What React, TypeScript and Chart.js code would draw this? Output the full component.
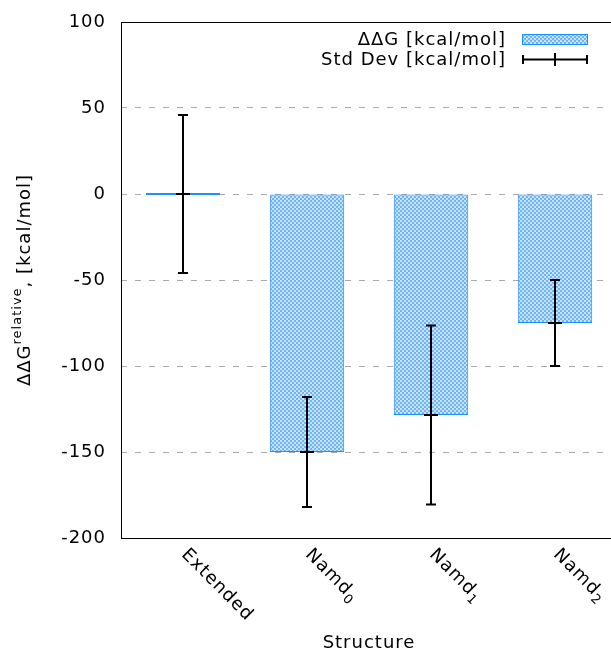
import React, { useEffect, useRef } from "react";
import { Chart, registerables } from "chart.js";

Chart.register(...registerables);

// ---- data ----
const categories = ["Extended", "Namd", "Namd", "Namd"];
const subscripts = ["", "0", "1", "2"];
const ddG = [0, -150, -128.5, -75];
const stdDev = [46, 32, 52, 25];
const yMin = -200;
const yMax = 100;
const yStep = 50;
const gridValues = [50, 0, -50, -100, -150];
const legendLabels = ["ΔΔG [kcal/mol]", "Std Dev [kcal/mol]"];
const xTitle = "Structure";
const yTitleParts = ["ΔΔG", "relative", ", [kcal/mol]"];

const FAMILY = "'DejaVu Sans', sans-serif";
const BLUE = "#1e8fff";

function makePattern(ctx: CanvasRenderingContext2D): CanvasPattern | string {
  const p = document.createElement("canvas");
  p.width = 4;
  p.height = 4;
  const pc = p.getContext("2d");
  if (!pc) return "#9ccbf8";
  pc.fillStyle = "#70b4f8";
  pc.fillRect(0, 0, 4, 4);
  pc.fillStyle = "#c8e3fe";
  pc.fillRect(0, 0, 2, 2);
  pc.fillRect(2, 2, 2, 2);
  return ctx.createPattern(p, "repeat") || "#9ccbf8";
}

export default function App() {
  const ref = useRef<HTMLCanvasElement | null>(null);

  useEffect(() => {
    const canvas = ref.current;
    if (!canvas) return;
    const ctx0 = canvas.getContext("2d");
    if (!ctx0) return;
    const pattern = makePattern(ctx0);

    const custom = {
      id: "custom",
      beforeDraw(chart: any) {
        (chart.ctx as any).letterSpacing = "1px";
      },
      afterDraw(chart: any) {
        const c: CanvasRenderingContext2D = chart.ctx;
        const ca = chart.chartArea;
        const xs = chart.scales.x;
        const ys = chart.scales.y;
        c.save();
        (c as any).letterSpacing = "1px";

        // frame
        c.strokeStyle = "#000";
        c.lineWidth = 1;
        c.setLineDash([]);
        c.strokeRect(ca.left + 0.5, ca.top + 0.5, ca.right - ca.left, ca.bottom - ca.top);

        // error bars
        const meta = chart.getDatasetMeta(0);
        c.lineWidth = 2;
        c.strokeStyle = "#000";
        meta.data.forEach((bar: any, i: number) => {
          const x = Math.round(bar.x);
          const yt = ys.getPixelForValue(ddG[i] + stdDev[i]);
          const yb = ys.getPixelForValue(ddG[i] - stdDev[i]);
          const ym = ys.getPixelForValue(ddG[i]);
          c.beginPath();
          c.moveTo(x, yt);
          c.lineTo(x, yb);
          c.moveTo(x - 5, yt);
          c.lineTo(x + 5, yt);
          c.moveTo(x - 5, yb);
          c.lineTo(x + 5, yb);
          c.moveTo(x - 7, ym);
          c.lineTo(x + 7, ym);
          c.stroke();
        });

        // x tick labels (rotated, with subscripts)
        c.fillStyle = "#000";
        categories.forEach((label, i) => {
          const x = xs.getPixelForValue(i);
          c.save();
          c.translate(x + 1, 552);
          c.rotate(Math.PI / 4);
          c.font = `18px ${FAMILY}`;
          c.textAlign = "left";
          c.textBaseline = "middle";
          c.fillText(label, 0, 0);
          const w = c.measureText(label).width;
          if (subscripts[i]) {
            c.font = `13px ${FAMILY}`;
            c.fillText(subscripts[i], w, 6);
          }
          c.restore();
        });

        // x title
        c.font = `18px ${FAMILY}`;
        c.textAlign = "center";
        c.textBaseline = "alphabetic";
        c.fillText(xTitle, (ca.left + ca.right) / 2, 648);

        // y title
        c.save();
        c.translate(30, (ca.top + ca.bottom) / 2);
        c.rotate(-Math.PI / 2);
        c.textAlign = "left";
        c.textBaseline = "alphabetic";
        c.font = `18px ${FAMILY}`;
        const w0 = c.measureText(yTitleParts[0]).width;
        const w2 = c.measureText(yTitleParts[2]).width;
        c.font = `13px ${FAMILY}`;
        const w1 = c.measureText(yTitleParts[1]).width;
        let px = -(w0 + w1 + w2) / 2;
        c.font = `18px ${FAMILY}`;
        c.fillText(yTitleParts[0], px, 0);
        px += w0;
        c.font = `13px ${FAMILY}`;
        c.fillText(yTitleParts[1], px, -9);
        px += w1;
        c.font = `18px ${FAMILY}`;
        c.fillText(yTitleParts[2], px, 0);
        c.restore();

        // legend
        c.font = `18px ${FAMILY}`;
        c.textAlign = "right";
        c.textBaseline = "alphabetic";
        c.fillStyle = "#000";
        c.fillText(legendLabels[0], 506, 45);
        c.fillText(legendLabels[1], 506, 65);
        c.fillStyle = pattern as any;
        c.fillRect(522, 34, 66, 11);
        c.strokeStyle = BLUE;
        c.lineWidth = 1;
        c.strokeRect(522.5, 34.5, 65, 10);
        c.strokeStyle = "#000";
        c.lineWidth = 2;
        c.beginPath();
        c.moveTo(522, 59.5);
        c.lineTo(588, 59.5);
        c.moveTo(523, 55);
        c.lineTo(523, 64);
        c.moveTo(587, 55);
        c.lineTo(587, 64);
        c.moveTo(555, 53);
        c.lineTo(555, 66);
        c.stroke();

        c.restore();
      },
    };

    const chart = new Chart(canvas, {
      type: "bar",
      data: {
        labels: categories.map((cat, i) => cat + subscripts[i]),
        datasets: [
          {
            label: legendLabels[0],
            data: ddG,
            backgroundColor: pattern as any,
            borderColor: BLUE,
            borderWidth: 1,
            borderSkipped: false,
            minBarLength: 2,
            barPercentage: 0.6,
            categoryPercentage: 1,
          },
        ],
      },
      options: {
        responsive: false,
        animation: false,
        devicePixelRatio: 1,
        layout: { padding: { top: 22, left: 0, right: 3, bottom: 0 } },
        plugins: {
          legend: { display: false },
          tooltip: { enabled: false },
        },
        scales: {
          x: {
            ticks: { display: false },
            grid: { display: false },
            border: { display: false },
            afterFit: (s: any) => {
              s.height = 112;
              s.paddingLeft = 0;
              s.paddingRight = 0;
            },
          },
          y: {
            min: yMin,
            max: yMax,
            ticks: {
              stepSize: yStep,
              color: "#000",
              padding: 15,
              font: { family: FAMILY, size: 18 },
            },
            grid: {
              drawTicks: false,
              lineWidth: 1,
              color: (ctx: any) =>
                gridValues.includes(ctx.tick?.value) ? "#aaaaaa" : "rgba(0,0,0,0)",
            },
            border: { display: false, dash: [6, 8] },
            afterFit: (s: any) => {
              s.width = 121;
              s.paddingTop = 0;
              s.paddingBottom = 0;
            },
          },
        },
      },
      plugins: [custom],
    });

    return () => {
      chart.destroy();
    };
  }, []);

  return (
    <div
      style={{
        position: "fixed",
        left: 0,
        top: 0,
        width: 611,
        height: 650,
        overflow: "hidden",
        background: "#fff",
      }}
    >
      <canvas
        ref={ref}
        width={620}
        height={650}
        style={{ position: "absolute", left: 0, top: 0, display: "block" }}
      />
    </div>
  );
}
